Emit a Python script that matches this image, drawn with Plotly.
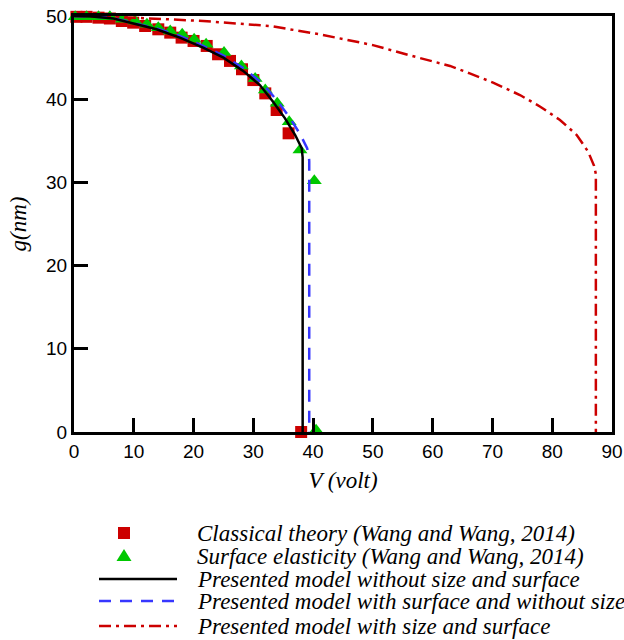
import plotly.graph_objects as go

# ---------------- data ----------------
# Classical theory (Wang and Wang, 2014) - red squares
sq_V = [0.4, 2.1, 4.1, 6.0, 8.0, 9.9, 11.9, 14.1, 16.1, 18.0, 20.0, 22.2, 24.1, 26.1, 28.1, 30.0, 32.0, 33.9, 35.9, 38.0]
sq_g = [49.9, 49.9, 49.8, 49.7, 49.4, 49.2, 48.8, 48.4, 48.0, 47.4, 47.0, 46.4, 45.4, 44.6, 43.6, 42.3, 40.7, 38.7, 35.9, 0.0]

# Surface elasticity (Wang and Wang, 2014) - green triangles
tri_V = [0.2, 2.1, 4.1, 6.0, 8.1, 10.2, 12.2, 14.1, 16.1, 18.1, 20.1, 22.1, 25.1, 28.0, 30.3, 32.0, 34.0, 36.0, 37.8, 40.2, 40.5]
tri_g = [49.9, 49.9, 49.9, 49.9, 49.6, 49.4, 49.0, 48.6, 48.2, 47.8, 47.2, 46.6, 45.6, 44.0, 42.5, 41.1, 39.5, 37.3, 33.9, 30.2, 0.2]

# Presented model without size and surface - black solid
black_V = [0, 3.0, 6.6, 10.5, 13.8, 17.7, 21.6, 25.0, 28.3, 31.1, 33.3, 35.3, 37.0, 38.1, 38.25, 38.25]
black_g = [50, 49.95, 49.7, 49.0, 48.4, 47.4, 46.2, 45.0, 43.4, 41.7, 39.7, 37.7, 35.7, 34.1, 33.0, 0]

# Presented model with surface and without size - blue dashed
blue_V = [0, 3.0, 6.6, 10.5, 13.8, 17.7, 21.6, 25.1, 28.6, 31.5, 33.9, 36.1, 37.9, 39.0, 39.3, 39.35, 39.35]
blue_g = [50, 49.95, 49.75, 49.1, 48.5, 47.6, 46.4, 45.2, 43.6, 41.9, 39.9, 37.8, 35.7, 34.1, 33.2, 32.5, 0]

# Presented model with size and surface - red dash-dot
red_V = [0, 10.0, 21.6, 32.8, 41.1, 50.0, 56.0, 62.9, 66.2, 70.1, 74.6, 78.0, 81.3, 84.1, 86.0, 87.0, 87.3, 87.3]
red_g = [50, 49.8, 49.4, 48.8, 47.8, 46.5, 45.3, 44.0, 43.1, 42.0, 40.5, 39.1, 37.5, 35.7, 33.7, 32.0, 31.0, 0]

x_ticks = [0, 10, 20, 30, 40, 50, 60, 70, 80, 90]
y_ticks = [0, 10, 20, 30, 40, 50]

legend_labels = [
    "Classical theory (Wang and Wang, 2014)",
    "Surface elasticity (Wang and Wang, 2014)",
    "Presented model without size and surface",
    "Presented model with surface and without size",
    "Presented model with size and surface",
]

RED = "#CC0000"
GREEN = "#00C800"
BLUE = "#3737FF"
SERIF = "Liberation Serif, Times New Roman, serif"
SANS = "Liberation Sans, Arial, sans-serif"

fig = go.Figure()
fig.add_trace(go.Scatter(x=sq_V, y=sq_g, mode="markers", name=legend_labels[0],
                         marker=dict(symbol="square", size=12, color=RED), cliponaxis=False))
fig.add_trace(go.Scatter(x=tri_V, y=tri_g, mode="markers", name=legend_labels[1],
                         marker=dict(symbol="triangle-up", size=13, color=GREEN), cliponaxis=False))
fig.add_trace(go.Scatter(x=red_V, y=red_g, mode="lines", name=legend_labels[4],
                         line=dict(color=RED, width=2.5, dash="12px,5px,3px,5px")))
fig.add_trace(go.Scatter(x=blue_V, y=blue_g, mode="lines", name=legend_labels[3],
                         line=dict(color=BLUE, width=2.5, dash="12px,9px")))
fig.add_trace(go.Scatter(x=black_V, y=black_g, mode="lines", name=legend_labels[2],
                         line=dict(color="black", width=2.5)))

L, R, T, B = 74, 12, 16, 208
W, H = 624, 640
PW, PH = W - L - R, H - T - B


def px_x(px):
    return (px - L) / PW


def px_y(py):
    return (H - B - py) / PH


axis_common = dict(
    showline=True, linewidth=3, linecolor="black", mirror=True,
    ticks="inside", ticklen=14, tickwidth=2.5, tickcolor="black",
    showgrid=False, zeroline=False, automargin=False,
    tickfont=dict(family=SANS, size=19, color="black"),
)

fig.update_xaxes(range=[0, 90], tickvals=x_ticks, ticktext=[str(v) for v in x_ticks],
                 title=dict(text="<i>V (volt)</i>", font=dict(family=SERIF, size=23, color="black"), standoff=12),
                 **axis_common)
fig.update_yaxes(range=[0, 50], tickvals=y_ticks, ticktext=[str(v) for v in y_ticks],
                 title=dict(text="<i>g(nm)</i>", font=dict(family=SERIF, size=23, color="black"), standoff=14),
                 **axis_common)

# ---------------- manual legend ----------------
rows_y = [533, 556, 579, 601, 626]
shapes = []
shapes.append(dict(type="rect", xref="paper", yref="paper",
                   x0=px_x(118), x1=px_x(130), y0=px_y(539), y1=px_y(527),
                   fillcolor=RED, line=dict(width=0)))
tri_path = "M {:.5f},{:.5f} L {:.5f},{:.5f} L {:.5f},{:.5f} Z".format(
    px_x(124), px_y(549), px_x(131.5), px_y(561), px_x(116.5), px_y(561))
shapes.append(dict(type="path", xref="paper", yref="paper", path=tri_path,
                   fillcolor=GREEN, line=dict(width=0)))
for yy, col, dash in [(rows_y[2], "black", "solid"), (rows_y[3], BLUE, "12px,9px"),
                      (rows_y[4], RED, "12px,5px,3px,5px")]:
    shapes.append(dict(type="line", xref="paper", yref="paper",
                       x0=px_x(99), x1=px_x(177), y0=px_y(yy), y1=px_y(yy),
                       line=dict(color=col, width=2.5, dash=dash)))

annotations = []
for lab, yy in zip(legend_labels, rows_y):
    annotations.append(dict(text="<i>" + lab + "</i>", xref="paper", yref="paper",
                            x=px_x(195), y=px_y(yy), xanchor="left", yanchor="middle",
                            showarrow=False, font=dict(family=SERIF, size=23, color="black")))

fig.update_layout(width=W, height=H, margin=dict(l=L, r=R, t=T, b=B, autoexpand=False),
                  plot_bgcolor="white", paper_bgcolor="white", showlegend=False,
                  shapes=shapes, annotations=annotations)

fig.write_html("out.html", config={"displayModeBar": False},
               post_script="document.body.style.margin='0';document.body.style.padding='0';"
                           "document.documentElement.style.overflow='hidden';")
